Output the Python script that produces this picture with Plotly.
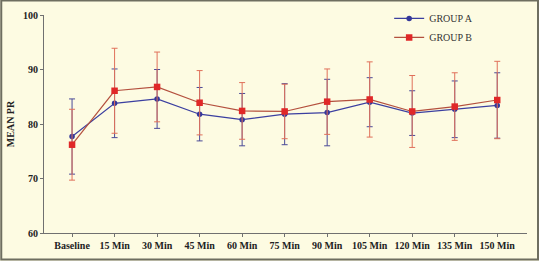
import plotly.graph_objects as go

categories = ["Baseline", "15 Min", "30 Min", "45 Min", "60 Min", "75 Min",
              "90 Min", "105 Min", "120 Min", "135 Min", "150 Min"]
group_a_mean = [77.7, 83.8, 84.6, 81.8, 80.8, 81.8, 82.1, 84.0, 82.0, 82.7, 83.4]
group_a_sd = [6.9, 6.3, 5.4, 4.9, 4.8, 5.6, 6.1, 4.5, 4.1, 5.2, 6.0]
group_b_mean = [76.2, 86.1, 86.8, 83.9, 82.4, 82.3, 84.1, 84.5, 82.3, 83.2, 84.4]
group_b_sd = [6.5, 7.8, 6.4, 5.9, 5.2, 5.0, 6.0, 6.9, 6.6, 6.2, 7.1]
y_ticks = [60, 70, 80, 90, 100]

serif = "Liberation Serif, Times New Roman, serif"

fig = go.Figure()
fig.add_trace(go.Scatter(
    x=categories, y=group_a_mean, name="GROUP A", mode="lines+markers",
    line=dict(color="#3b3fa0", width=1.2),
    marker=dict(symbol="circle", size=5.5, color="#34379a"),
    error_y=dict(type="data", array=group_a_sd, visible=True,
                 color="#4a4a98", thickness=1, width=3),
))
fig.add_trace(go.Scatter(
    x=categories, y=group_b_mean, name="GROUP B", mode="lines+markers",
    line=dict(color="#b4503e", width=1.2),
    marker=dict(symbol="square", size=6.5, color="#e02828"),
    error_y=dict(type="data", array=group_b_sd, visible=True,
                 color="#e0705a", thickness=1, width=3),
))

bg = "#fdfbe2"
fig.update_layout(
    width=539, height=261,
    margin=dict(l=44, r=12, t=15, b=28, autoexpand=False),
    paper_bgcolor=bg, plot_bgcolor=bg,
    font=dict(family=serif, size=10, color="#222222"),
    showlegend=True,
    legend=dict(xref="container", yref="container", x=0.722, y=0.985,
                xanchor="left", yanchor="top",
                bgcolor="rgba(0,0,0,0)", font=dict(family=serif, size=10, color="#333333"),
                tracegroupgap=0),
    xaxis=dict(
        range=[-0.66, 10.7], showgrid=False, zeroline=False, automargin=False,
        showline=True, linecolor="#707070", linewidth=1.2,
        ticks="outside", ticklen=3, tickcolor="#707070",
        tickfont=dict(family=serif, size=10, color="#222222", weight="bold"),
    ),
    yaxis=dict(
        range=[60, 100], tickvals=y_ticks, showgrid=False, zeroline=False, automargin=False,
        showline=True, linecolor="#707070", linewidth=1.2,
        ticks="outside", ticklen=3, tickcolor="#707070",
        tickfont=dict(family=serif, size=10, color="#222222", weight="bold"),
        title=dict(text="<b>MEAN PR</b>", font=dict(family=serif, size=10, color="#222222"),
                   standoff=6),
    ),
    shapes=[dict(type="rect", xref="paper", yref="paper",
                 x0=-0.0885, x1=1.0228, y0=-0.1215, y1=1.0665,
                 line=dict(color="#6e6e60", width=2), fillcolor="rgba(0,0,0,0)")],
)

fig.write_html("out.html", config={"displayModeBar": False},
               post_script="document.body.style.margin='0';document.body.style.background='%s';" % bg)
